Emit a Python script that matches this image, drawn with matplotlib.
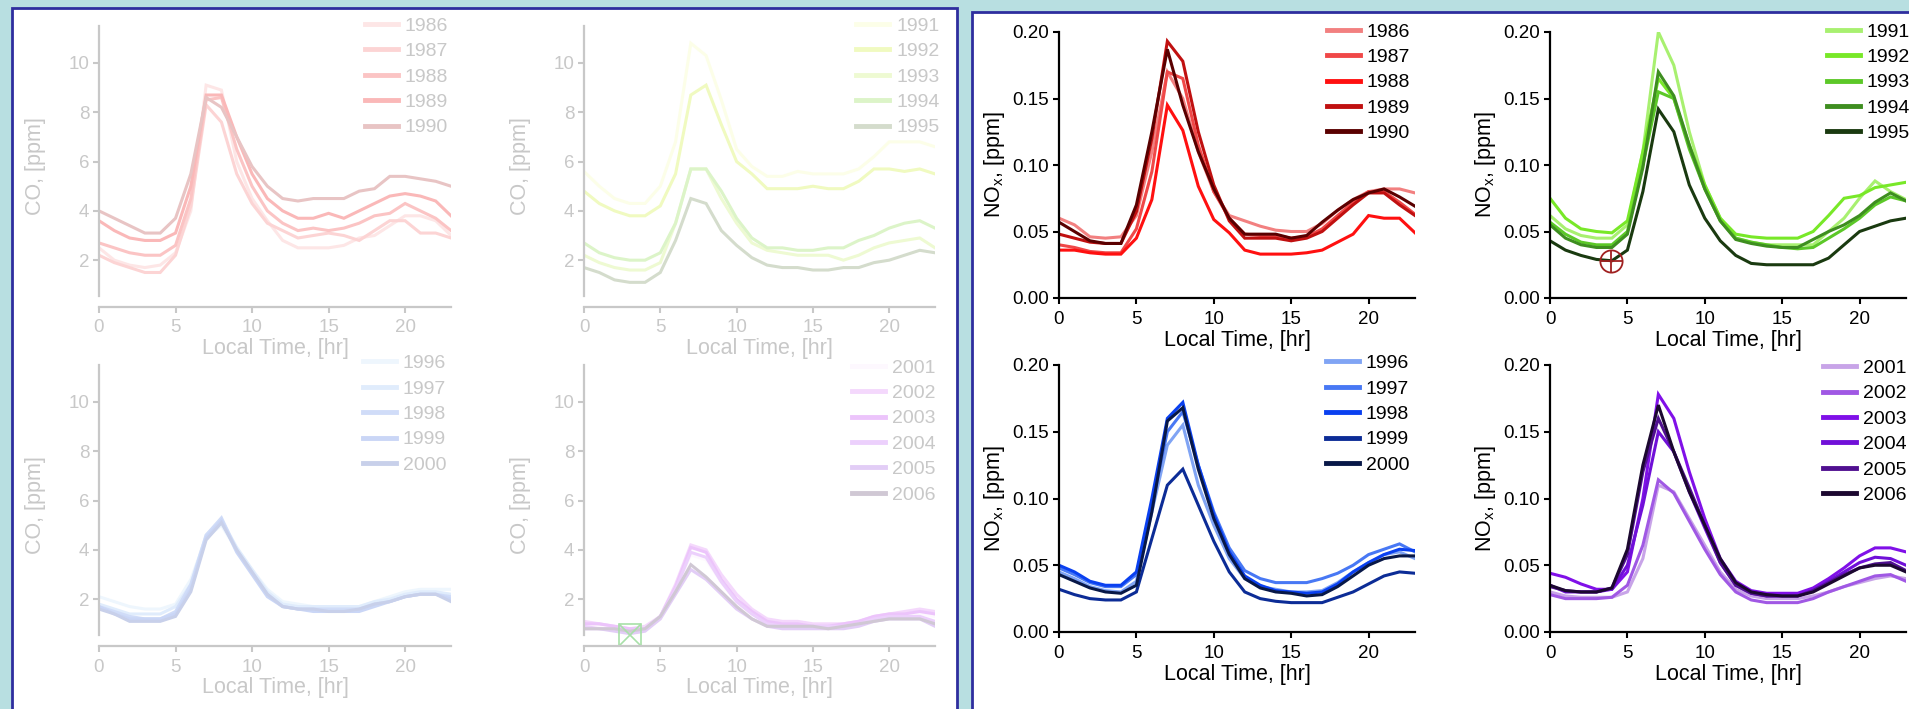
import matplotlib.pyplot as plt
from matplotlib.patches import Rectangle

plt.rcParams['font.family'] = ['Liberation Sans', 'DejaVu Sans']
plt.rcParams['mathtext.fontset'] = 'custom'
plt.rcParams['mathtext.rm'] = 'Liberation Sans'
plt.rcParams['mathtext.it'] = 'Liberation Sans:italic'

hours = list(range(24))

# CO, ppm (faded left panel)
co_86_90 = {
    '1986': [2.5, 2.0, 1.8, 1.7, 1.8, 2.3, 4.0, 9.1, 8.9, 6.0, 4.5, 3.6, 2.8, 2.5, 2.5, 2.5, 2.6, 2.9, 3.0, 3.4, 3.8, 3.8, 3.6, 3.0],
    '1987': [2.2, 1.9, 1.7, 1.5, 1.5, 2.2, 4.2, 8.3, 7.6, 5.5, 4.3, 3.5, 3.2, 2.9, 3.0, 3.1, 3.0, 2.8, 3.2, 3.6, 3.6, 3.1, 3.1, 2.9],
    '1988': [2.7, 2.5, 2.3, 2.2, 2.2, 2.6, 4.5, 8.5, 8.6, 6.5, 5.0, 4.0, 3.5, 3.2, 3.3, 3.2, 3.3, 3.5, 3.8, 3.9, 4.3, 4.0, 3.7, 3.2],
    '1989': [3.6, 3.2, 2.9, 2.8, 2.8, 3.1, 5.0, 8.7, 8.7, 7.0, 5.5, 4.5, 4.0, 3.7, 3.7, 3.9, 3.7, 4.0, 4.3, 4.6, 4.7, 4.6, 4.4, 3.8],
    '1990': [4.0, 3.7, 3.4, 3.1, 3.1, 3.7, 5.5, 8.6, 8.2, 7.0, 5.8, 5.0, 4.5, 4.4, 4.5, 4.5, 4.5, 4.8, 4.9, 5.4, 5.4, 5.3, 5.2, 5.0],
}
co_91_95 = {
    '1991': [5.6, 5.0, 4.5, 4.3, 4.3, 5.0, 6.8, 10.8, 10.3, 8.5, 6.5, 5.8, 5.4, 5.4, 5.6, 5.5, 5.5, 5.5, 5.7, 6.2, 6.8, 6.8, 6.8, 6.6],
    '1992': [4.8, 4.3, 4.0, 3.8, 3.8, 4.2, 5.5, 8.7, 9.1, 7.5, 6.0, 5.5, 4.9, 4.9, 4.9, 5.0, 4.9, 4.9, 5.2, 5.7, 5.7, 5.6, 5.7, 5.5],
    '1993': [2.2, 1.9, 1.7, 1.6, 1.6, 1.9, 3.5, 5.7, 5.7, 4.5, 3.5, 2.7, 2.4, 2.3, 2.2, 2.2, 2.2, 2.0, 2.2, 2.5, 2.7, 2.8, 2.9, 2.5],
    '1994': [2.7, 2.3, 2.1, 2.0, 2.0, 2.3, 3.5, 5.7, 5.7, 4.8, 3.7, 2.9, 2.5, 2.5, 2.4, 2.4, 2.5, 2.5, 2.8, 3.0, 3.3, 3.5, 3.6, 3.3],
    '1995': [1.7, 1.5, 1.2, 1.1, 1.1, 1.5, 2.8, 4.5, 4.3, 3.2, 2.6, 2.1, 1.8, 1.7, 1.7, 1.6, 1.6, 1.7, 1.7, 1.9, 2.0, 2.2, 2.4, 2.3],
}
co_96_00 = {
    '1996': [2.1, 1.9, 1.7, 1.6, 1.6, 1.8, 2.8, 4.5, 5.0, 4.0, 3.2, 2.4, 1.9, 1.8, 1.7, 1.7, 1.7, 1.7, 1.9, 2.1, 2.3, 2.4, 2.4, 2.4],
    '1997': [1.8, 1.6, 1.4, 1.4, 1.4, 1.7, 2.6, 4.6, 5.2, 4.1, 3.2, 2.3, 1.8, 1.7, 1.7, 1.7, 1.7, 1.7, 1.9, 2.0, 2.2, 2.3, 2.3, 2.2],
    '1998': [1.7, 1.5, 1.3, 1.2, 1.2, 1.5, 2.6, 4.6, 5.3, 4.0, 3.1, 2.2, 1.7, 1.6, 1.6, 1.6, 1.6, 1.6, 1.8, 1.9, 2.1, 2.2, 2.2, 2.1],
    '1999': [1.7, 1.4, 1.2, 1.2, 1.2, 1.4, 2.4, 4.5, 5.2, 3.9, 3.0, 2.1, 1.7, 1.6, 1.5, 1.5, 1.5, 1.5, 1.7, 1.9, 2.1, 2.2, 2.2, 2.0],
    '2000': [1.6, 1.4, 1.1, 1.1, 1.1, 1.3, 2.3, 4.4, 5.1, 4.0, 3.1, 2.2, 1.7, 1.6, 1.6, 1.5, 1.5, 1.6, 1.8, 1.9, 2.1, 2.2, 2.2, 1.9],
}
co_01_06 = {
    '2001': [1.0, 0.9, 0.8, 0.8, 0.8, 1.2, 2.4, 3.8, 3.6, 2.7, 1.9, 1.4, 1.1, 1.0, 1.0, 0.9, 0.9, 1.0, 1.1, 1.2, 1.3, 1.4, 1.4, 1.3],
    '2002': [1.1, 1.0, 0.9, 0.8, 0.9, 1.3, 2.6, 4.2, 4.0, 3.0, 2.2, 1.6, 1.2, 1.1, 1.1, 1.0, 1.0, 1.0, 1.1, 1.3, 1.4, 1.5, 1.6, 1.5],
    '2003': [1.0, 1.0, 0.9, 0.8, 0.8, 1.3, 2.5, 4.1, 3.9, 2.8, 2.0, 1.5, 1.1, 1.0, 1.0, 0.9, 0.9, 1.0, 1.1, 1.3, 1.4, 1.4, 1.5, 1.4],
    '2004': [0.9, 0.8, 0.8, 0.7, 0.8, 1.3, 2.4, 3.9, 3.7, 2.7, 1.9, 1.4, 1.0, 0.9, 0.9, 0.9, 0.9, 0.9, 1.0, 1.2, 1.3, 1.3, 1.3, 1.1],
    '2005': [0.8, 0.8, 0.7, 0.6, 0.7, 1.2, 2.2, 3.2, 2.8, 2.2, 1.6, 1.2, 0.9, 0.8, 0.8, 0.8, 0.8, 0.8, 0.9, 1.1, 1.2, 1.2, 1.2, 0.9],
    '2006': [0.8, 0.8, 0.8, 0.7, 0.8, 1.3, 2.3, 3.4, 2.9, 2.3, 1.7, 1.2, 0.9, 0.9, 0.9, 0.9, 0.8, 0.9, 1.0, 1.1, 1.2, 1.2, 1.2, 1.0],
}

# NOx, ppm (right panel)
nox_86_90 = {
    '1986': [0.060, 0.055, 0.046, 0.045, 0.046, 0.062, 0.110, 0.170, 0.150, 0.110, 0.080, 0.062, 0.058, 0.054, 0.051, 0.050, 0.050, 0.056, 0.066, 0.074, 0.080, 0.082, 0.082, 0.079],
    '1987': [0.040, 0.038, 0.035, 0.034, 0.034, 0.052, 0.095, 0.170, 0.165, 0.115, 0.080, 0.060, 0.048, 0.047, 0.047, 0.045, 0.046, 0.052, 0.062, 0.072, 0.080, 0.080, 0.072, 0.063],
    '1988': [0.036, 0.036, 0.034, 0.033, 0.033, 0.045, 0.074, 0.145, 0.126, 0.084, 0.059, 0.049, 0.036, 0.033, 0.033, 0.033, 0.034, 0.036, 0.042, 0.048, 0.062, 0.060, 0.060, 0.049],
    '1989': [0.048, 0.045, 0.042, 0.041, 0.041, 0.065, 0.120, 0.193, 0.178, 0.125, 0.085, 0.058, 0.045, 0.045, 0.045, 0.043, 0.045, 0.050, 0.060, 0.070, 0.079, 0.079, 0.070, 0.062],
    '1990': [0.057, 0.050, 0.043, 0.041, 0.041, 0.070, 0.125, 0.187, 0.145, 0.110, 0.082, 0.060, 0.048, 0.048, 0.048, 0.045, 0.047, 0.057, 0.066, 0.074, 0.079, 0.082, 0.076, 0.069],
}
nox_91_95 = {
    '1991': [0.062, 0.052, 0.047, 0.045, 0.045, 0.055, 0.110, 0.200, 0.175, 0.125, 0.085, 0.060, 0.045, 0.042, 0.040, 0.040, 0.040, 0.040, 0.050, 0.060, 0.075, 0.088, 0.080, 0.074],
    '1992': [0.075, 0.060, 0.052, 0.050, 0.049, 0.058, 0.110, 0.165, 0.150, 0.115, 0.085, 0.060, 0.048, 0.046, 0.045, 0.045, 0.045, 0.050, 0.062, 0.075, 0.077, 0.083, 0.085, 0.087],
    '1993': [0.057, 0.048, 0.042, 0.040, 0.040, 0.050, 0.100, 0.155, 0.150, 0.112, 0.082, 0.058, 0.045, 0.042, 0.040, 0.038, 0.037, 0.038, 0.045, 0.052, 0.060, 0.070, 0.076, 0.073],
    '1994': [0.055, 0.045, 0.040, 0.038, 0.038, 0.048, 0.098, 0.170, 0.152, 0.115, 0.082, 0.058, 0.044, 0.041, 0.039, 0.038, 0.038, 0.044, 0.050, 0.055, 0.062, 0.072, 0.079, 0.073],
    '1995': [0.043, 0.036, 0.032, 0.029, 0.028, 0.036, 0.080, 0.142, 0.125, 0.085, 0.060, 0.043, 0.032, 0.026, 0.025, 0.025, 0.025, 0.025, 0.030, 0.040, 0.050, 0.054, 0.058, 0.060],
}
nox_96_00 = {
    '1996': [0.045, 0.040, 0.034, 0.031, 0.030, 0.038, 0.090, 0.140, 0.155, 0.110, 0.080, 0.055, 0.040, 0.034, 0.032, 0.030, 0.030, 0.031, 0.037, 0.045, 0.052, 0.058, 0.060, 0.055],
    '1997': [0.048, 0.043, 0.037, 0.034, 0.034, 0.043, 0.095, 0.150, 0.165, 0.125, 0.090, 0.063, 0.046, 0.040, 0.037, 0.037, 0.037, 0.040, 0.044, 0.050, 0.058, 0.062, 0.066, 0.060],
    '1998': [0.050, 0.045, 0.038, 0.035, 0.035, 0.045, 0.100, 0.160, 0.172, 0.125, 0.088, 0.060, 0.042, 0.035, 0.031, 0.030, 0.029, 0.030, 0.036, 0.045, 0.052, 0.058, 0.062, 0.061],
    '1999': [0.032, 0.028, 0.025, 0.024, 0.024, 0.030, 0.070, 0.110, 0.122, 0.095, 0.068, 0.045, 0.030, 0.025, 0.023, 0.022, 0.022, 0.022, 0.026, 0.030, 0.036, 0.042, 0.045, 0.044],
    '2000': [0.043, 0.038, 0.033, 0.030, 0.029, 0.035, 0.090, 0.158, 0.168, 0.122, 0.085, 0.058, 0.040, 0.033, 0.030, 0.029, 0.027, 0.028, 0.034, 0.042, 0.050, 0.055, 0.057, 0.057],
}
nox_01_06 = {
    '2001': [0.030, 0.027, 0.026, 0.026, 0.026, 0.030, 0.055, 0.110, 0.105, 0.085, 0.065, 0.045, 0.032, 0.027, 0.025, 0.025, 0.025, 0.027, 0.030, 0.034, 0.037, 0.040, 0.042, 0.040],
    '2002': [0.028, 0.025, 0.025, 0.025, 0.026, 0.035, 0.065, 0.114, 0.104, 0.083, 0.062, 0.043, 0.030, 0.024, 0.022, 0.022, 0.022, 0.025, 0.030, 0.034, 0.038, 0.042, 0.043, 0.038],
    '2003': [0.044, 0.041, 0.036, 0.032, 0.032, 0.045, 0.100, 0.178, 0.160, 0.120, 0.085, 0.055, 0.038, 0.031, 0.029, 0.029, 0.029, 0.033, 0.040, 0.048, 0.057, 0.063, 0.063, 0.060],
    '2004': [0.035, 0.030, 0.030, 0.030, 0.032, 0.050, 0.095, 0.150, 0.135, 0.105, 0.078, 0.052, 0.035, 0.029, 0.027, 0.027, 0.027, 0.031, 0.038, 0.045, 0.052, 0.056, 0.055, 0.050],
    '2005': [0.034, 0.031, 0.030, 0.030, 0.033, 0.058, 0.120, 0.160, 0.135, 0.108, 0.080, 0.052, 0.035, 0.029, 0.027, 0.027, 0.027, 0.031, 0.037, 0.043, 0.048, 0.051, 0.052, 0.046],
    '2006': [0.035, 0.031, 0.030, 0.030, 0.033, 0.062, 0.125, 0.170, 0.135, 0.105, 0.080, 0.055, 0.037, 0.030, 0.028, 0.027, 0.027, 0.030, 0.036, 0.042, 0.048, 0.050, 0.050, 0.045],
}

# cursor glyphs left on the original slide
co_box_mark = (3.0, 0.56)
nox_ring_mark = (3.95, 0.028)

co_reds = ['#fde6e6', '#fcd4d4', '#fbc4c4', '#fab8b8', '#e8c4c4']
co_greens = ['#fcfee8', '#f0fac0', '#eefad2', '#dcf4c8', '#d4dccc']
co_blues = ['#eef6fd', '#e0ecfc', '#d0dcf8', '#cad6f6', '#c8d0ea']
co_purples = ['#fdf8fe', '#f4d8fc', '#ecc4fb', '#ecd0fc', '#e2cdf6', '#d0c8d4']
nox_reds = ['#f28080', '#f04848', '#ff1010', '#c01010', '#5a0000']
nox_greens = ['#a8f070', '#78e828', '#5cc828', '#3e8e20', '#1a3a10']
nox_blues = ['#80a4f4', '#4878f4', '#0a40f0', '#0c2c96', '#081848']
nox_purples = ['#c8a4e8', '#a058e4', '#8010e8', '#7010d8', '#501090', '#1c0830']

W, H = 1909, 709
fig = plt.figure(figsize=(W / 100, H / 100), dpi=100)
fig.patch.set_facecolor('#b8dfe1')
fig.patches.append(Rectangle((12 / W, -0.02), (957 - 12) / W, 1.02 - 8 / H,
                             transform=fig.transFigure, facecolor='white',
                             edgecolor='#2e2e9e', lw=2, zorder=-5))
fig.patches.append(Rectangle((972 / W, -0.02), 1.0, 1.02 - 12 / H,
                             transform=fig.transFigure, facecolor='white',
                             edgecolor='#2e2e9e', lw=2, zorder=-5))


def px_axes(left, top, right, bottom):
    return fig.add_axes([left / W, 1 - bottom / H, (right - left) / W, (bottom - top) / H])


def draw(ax, data, colors, faded, leg_xy):
    grey = '#c8c8c8'
    fg = grey if faded else 'black'
    for (year, vals), c in zip(data.items(), colors):
        ax.plot(hours, vals, color=c, lw=2.2, label=year, solid_joinstyle='miter')
    ax.set_xlim(0, 23)
    ax.set_xticks([0, 5, 10, 15, 20])
    for s in ['top', 'right']:
        ax.spines[s].set_visible(False)
    for s in ['left', 'bottom']:
        ax.spines[s].set_color(fg)
        ax.spines[s].set_linewidth(1.6)
    ax.tick_params(colors=fg, direction='out', length=4, width=1.5,
                   labelsize=13.5, pad=3)
    ax.tick_params(axis='x', pad=5)
    ax.set_facecolor('none')
    if faded:
        ax.set_ylim(0.1, 11.5)
        ax.spines['left'].set_bounds(0.55, 11.5)
        ax.set_yticks([2, 4, 6, 8, 10])
        ax.set_ylabel('CO, [ppm]', fontsize=15.5, color=fg, labelpad=16)
        ax.set_xlabel('Local Time, [hr]', fontsize=15.5, color=fg, labelpad=1)
    else:
        ax.set_ylim(0, 0.2)
        ax.set_yticks([0, 0.05, 0.10, 0.15, 0.20])
        ax.set_yticklabels(['0.00', '0.05', '0.10', '0.15', '0.20'])
        ax.set_ylabel(r'NO$_\mathrm{x}$, [ppm]', fontsize=15.5, color=fg, labelpad=4)
        ax.set_xlabel('Local Time, [hr]', fontsize=15.5, color=fg, labelpad=2)
    leg = ax.legend(loc='upper left', bbox_to_anchor=leg_xy, frameon=False,
                    fontsize=14, handlelength=1.7, handletextpad=0.35,
                    labelspacing=0.4, borderpad=0, borderaxespad=0,
                    labelcolor=fg)
    for ln in leg.get_lines():
        ln.set_linewidth(3.5)


ax = px_axes(99, 26, 451, 307)
draw(ax, co_86_90, co_reds, True, (0.756, 1.031))
ax = px_axes(584, 26, 935, 307)
draw(ax, co_91_95, co_greens, True, (0.776, 1.031))
ax = px_axes(99, 365, 451, 646)
draw(ax, co_96_00, co_blues, True, (0.749, 1.037))
ax = px_axes(584, 365, 935, 646)
draw(ax, co_01_06, co_purples, True, (0.764, 1.021))
ax.plot(*co_box_mark, marker='s', ms=16, mfc='none', mec='#a8e0a8', mew=1.2)
ax.plot(*co_box_mark, marker='x', ms=16, mec='#a8e0a8', mew=1.2)

ax = px_axes(1059, 32, 1415, 298)
draw(ax, nox_86_90, nox_reds, False, (0.752, 1.034))
ax = px_axes(1550, 32, 1906, 298)
draw(ax, nox_91_95, nox_greens, False, (0.777, 1.034))
ax.plot(*nox_ring_mark, marker='o', ms=16, mfc='none', mec='#a02020', mew=1.3)
ax.plot(*nox_ring_mark, marker='+', ms=16, mec='#a02020', mew=1.3)
ax = px_axes(1059, 365, 1415, 632)
draw(ax, nox_96_00, nox_blues, False, (0.75, 1.039))
ax = px_axes(1550, 365, 1906, 632)
draw(ax, nox_01_06, nox_purples, False, (0.766, 1.021))

fig.savefig('out.png', dpi=100, facecolor=fig.get_facecolor())
